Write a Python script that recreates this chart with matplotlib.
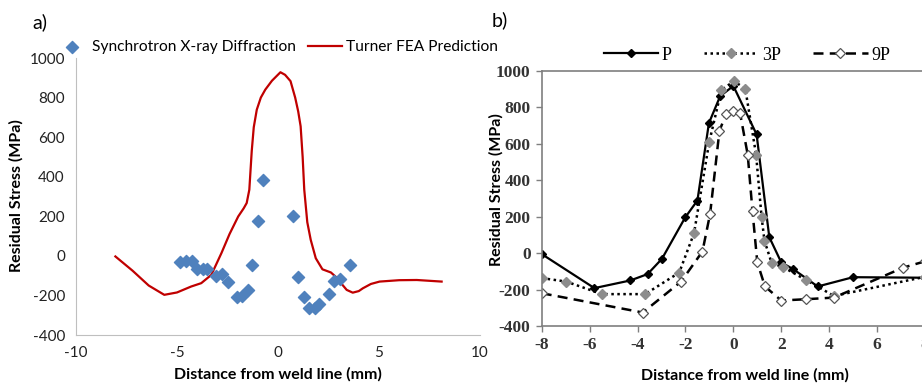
import matplotlib
matplotlib.use("Agg")
import matplotlib.pyplot as plt

plt.rcParams["axes.unicode_minus"] = False

# panel a - synchrotron measurements
xrd_x = [-4.85, -4.55, -4.25, -4.0, -3.7, -3.5, -3.05, -2.77, -2.5, -2.03, -1.77, -1.5,
         -1.27, -1.0, -0.75, 0.75, 1.0, 1.28, 1.53, 1.82, 2.03, 2.53, 2.78, 3.08, 3.57]
xrd_y = [-29, -24, -25, -68, -68, -68, -101, -91, -130, -206, -202, -172,
         -46, 174, 383, 199, -105, -206, -265, -265, -243, -192, -125, -118, -46]

# panel a - FEA curve
fea_x = [-8.05, -7.2, -6.4, -5.63, -5.0, -4.3, -3.8, -3.3, -2.8, -2.4, -1.97, -1.7, -1.55,
         -1.42, -1.3, -1.2, -1.05, -0.85, -0.63, -0.3, 0.12, 0.35, 0.62, 0.85, 1.0, 1.12,
         1.22, 1.3, 1.45, 1.62, 1.87, 2.2, 2.62, 2.85, 3.12, 3.4, 3.7, 4.0, 4.2, 4.6,
         5.03, 6.0, 6.87, 8.1]
fea_y = [-3, -75, -150, -197, -185, -155, -138, -96, 14, 110, 199, 240, 267,
         334, 530, 650, 739, 800, 840, 885, 928, 915, 883, 800, 730, 655,
         500, 334, 170, 81, -12, -68, -84, -105, -138, -172, -186, -178, -164, -142,
         -130, -123, -122, -130]

# panel b - three series
p_x = [-8, -5.8, -4.3, -3.58, -2.98, -2.01, -1.5, -1.02, -0.55, 0.0, 0.97, 1.5, 2.0, 2.5, 3.52, 5.0, 8]
p_y = [-5, -192, -150, -115, -31, 196, 289, 714, 862, 918, 652, 88, -51, -88, -183, -132, -135]

p3_x = [-8, -6.98, -5.48, -3.68, -2.26, -1.64, -1.01, -0.5, 0.03, 0.5, 0.95, 1.18, 1.3, 1.6, 2.08, 3.03, 4.2, 8]
p3_y = [-137, -156, -225, -225, -107, 110, 608, 895, 945, 901, 540, 196, 68, -55, -77, -147, -235, -130]

p9_x = [-8, -3.78, -2.18, -1.29, -0.97, -0.58, -0.3, 0.0, 0.28, 0.6, 0.8, 1.0, 1.32, 2.0, 3.03, 4.2, 7.1, 8]
p9_y = [-220, -326, -156, 9, 216, 672, 765, 782, 769, 540, 229, -51, -183, -260, -253, -244, -79, -45]

W, H = 922, 388
fig = plt.figure(figsize=(W / 100, H / 100), dpi=100)

def box(l, t, r, b):
    return [l / W, 1 - b / H, (r - l) / W, (b - t) / H]

sans = "Lato"
serif = "Liberation Serif"

# ---------- panel a ----------
ax1 = fig.add_axes(box(76, 58, 480, 335))
ax1.plot(fea_x, fea_y, color="#C00000", lw=1.6, label="Turner FEA Prediction")
ax1.scatter(xrd_x, xrd_y, marker="D", s=38, color="#4F81BD", zorder=3,
            label="Synchrotron X-ray Diffraction")
ax1.set_xlim(-10, 10)
ax1.set_ylim(-400, 1000)
ax1.set_xticks([-10, -5, 0, 5, 10])
ax1.set_yticks(range(-400, 1001, 200))
for s in ["top", "right"]:
    ax1.spines[s].set_visible(False)
for s in ["left", "bottom"]:
    ax1.spines[s].set_color("#BFBFBF")
ax1.tick_params(length=0, labelsize=11, labelcolor="#222222", pad=8)
for lab in ax1.get_xticklabels() + ax1.get_yticklabels():
    lab.set_family(sans)

h, l = ax1.get_legend_handles_labels()
fig.legend([h[1], h[0]], [l[1], l[0]], ncol=2, frameon=False, loc="center",
           bbox_to_anchor=(276 / W, 1 - 47 / H), prop={"family": sans, "size": 11.2},
           handlelength=2.2, handletextpad=0.2, columnspacing=0.8)

fig.text(278 / W, 1 - 374 / H, "Distance from weld line (mm)", ha="center", va="center",
         family=sans, weight="bold", size=11.5)
fig.text(16 / W, 1 - 196 / H, "Residual Stress (MPa)", ha="center", va="center",
         rotation=90, family=sans, weight="bold", size=11.5)
fig.text(40 / W, 1 - 22 / H, "a)", ha="center", va="center", family=sans, size=14)

# ---------- panel b ----------
ax2 = fig.add_axes(box(541.7, 71, 925, 326))
ax2.plot(p_x, p_y, color="black", lw=1.6, marker="D", ms=4.5, mfc="black", mec="black", label="P")
ax2.plot(p3_x, p3_y, color="black", lw=1.8, ls=(0, (1, 1.4)), marker="D", ms=5,
         mfc="#8C8C8C", mec="#8C8C8C", label="3P")
ax2.plot(p9_x, p9_y, color="black", lw=1.8, ls=(0, (4, 2.5)), marker="D", ms=5,
         mfc="white", mec="#555555", mew=0.9, label="9P")
ax2.set_xlim(-8, 8)
ax2.set_ylim(-400, 1000)
ax2.set_xticks(range(-8, 9, 2))
ax2.set_yticks(range(-400, 1001, 200))
for s in ax2.spines.values():
    s.set_color("#7F7F7F")
    s.set_linewidth(1.2)
ax2.tick_params(length=4, width=1, color="#7F7F7F", labelsize=12.5, pad=4)
for lab in ax2.get_xticklabels() + ax2.get_yticklabels():
    lab.set_family(serif)
    lab.set_weight("bold")
    lab.set_color("#333333")

ax2.legend(ncol=3, frameon=False, loc="center", bbox_to_anchor=(747 / W, 1 - 55 / H),
           bbox_transform=fig.transFigure, prop={"family": serif, "size": 13},
           handlelength=3, handletextpad=0.2, columnspacing=1.8)

fig.text(745 / W, 1 - 375 / H, "Distance from weld line (mm)", ha="center", va="center",
         family=sans, weight="bold", size=11.5)
fig.text(496 / W, 1 - 190 / H, "Residual Stress (MPa)", ha="center", va="center",
         rotation=90, family=sans, weight="bold", size=11.5)
fig.text(500 / W, 1 - 20 / H, "b)", ha="center", va="center", family=sans, size=14)

fig.savefig("out.png", dpi=100)
